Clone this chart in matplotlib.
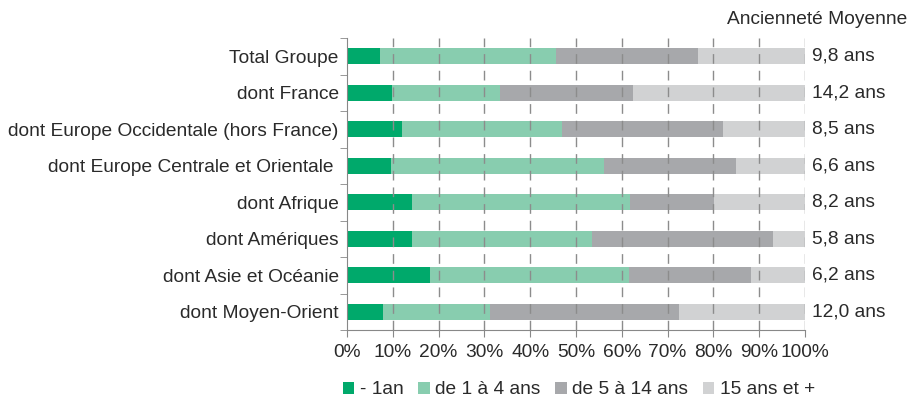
import matplotlib.pyplot as plt
import numpy as np

plt.rcParams['font.family'] = ['Liberation Sans', 'DejaVu Sans']

# regions, top to bottom
regions = ["Total Groupe", "dont France", "dont Europe Occidentale (hors France)",
           "dont Europe Centrale et Orientale ", "dont Afrique", "dont Amériques",
           "dont Asie et Océanie", "dont Moyen-Orient"]

# seniority shares (%) per band
moins_1an = [7.1, 9.8, 12.1, 9.5, 14.1, 14.3, 18.1, 7.8]
de_1_a_4 = [38.5, 23.6, 34.8, 46.6, 47.7, 39.2, 43.4, 23.4]
de_5_a_14 = [31.0, 29.0, 35.2, 28.8, 18.3, 39.5, 26.7, 41.3]
plus_15 = [23.4, 37.6, 17.9, 15.1, 19.9, 7.0, 11.8, 27.5]

anciennete = ["9,8 ans", "14,2 ans", "8,5 ans", "6,6 ans", "8,2 ans", "5,8 ans", "6,2 ans", "12,0 ans"]

series = [
    ("- 1an", moins_1an, "#00a96b"),
    ("de 1 à 4 ans", de_1_a_4, "#88cdaf"),
    ("de 5 à 14 ans", de_5_a_14, "#a7a8ab"),
    ("15 ans et +", plus_15, "#d1d2d3"),
]

FS = 13.8
TXT = "#2a2a2a"

fig = plt.figure(figsize=(9.12, 4.0), dpi=100)
ax = fig.add_axes([347 / 912, 70 / 400, 458 / 912, 292 / 400])

y = np.arange(len(regions))
left = np.zeros(len(regions))
for label, vals, col in series:
    vals = np.array(vals)
    ax.barh(y, vals, left=left, height=0.43, color=col, label=label, zorder=1)
    left += vals

ax.set_xlim(0, 100)
ax.set_ylim(len(regions) - 0.5, -0.5)
ax.set_xticks(np.arange(0, 101, 10))
ax.set_xticklabels([f"{v}%" for v in range(0, 101, 10)], fontsize=FS, color=TXT)
ax.tick_params(axis="x", length=5, color="#888888", pad=5)

ax.set_yticks(y)
ax.set_yticklabels(regions, fontsize=FS, color=TXT)
ax.set_yticks(np.arange(-0.5, len(regions), 1), minor=True)
ax.tick_params(axis="y", which="major", length=0, pad=6)
ax.tick_params(axis="y", which="minor", length=5, color="#888888")

for x in range(10, 101, 10):
    ax.axvline(x, color="#8c8c8c", linestyle=(0, (7, 5)), linewidth=1.0, zorder=2)

for side in ("top", "right"):
    ax.spines[side].set_visible(False)
for side in ("left", "bottom"):
    ax.spines[side].set_color("#888888")

# average seniority on the right
for yi, txt in zip(y, anciennete):
    ax.text(101.5, yi, txt, va="center", ha="left", fontsize=FS, color=TXT)
fig.text(907 / 912, 1 - 20 / 400, "Ancienneté Moyenne", ha="right", va="center",
         fontsize=FS, color=TXT)

leg = fig.legend(loc="center", bbox_to_anchor=(579 / 912, 1 - 390 / 400), ncol=4,
                 frameon=False, fontsize=FS, handlelength=0.6, handleheight=0.6,
                 handletextpad=0.3, columnspacing=0.75)
for t in leg.get_texts():
    t.set_color(TXT)

fig.savefig("out.png", dpi=100)
